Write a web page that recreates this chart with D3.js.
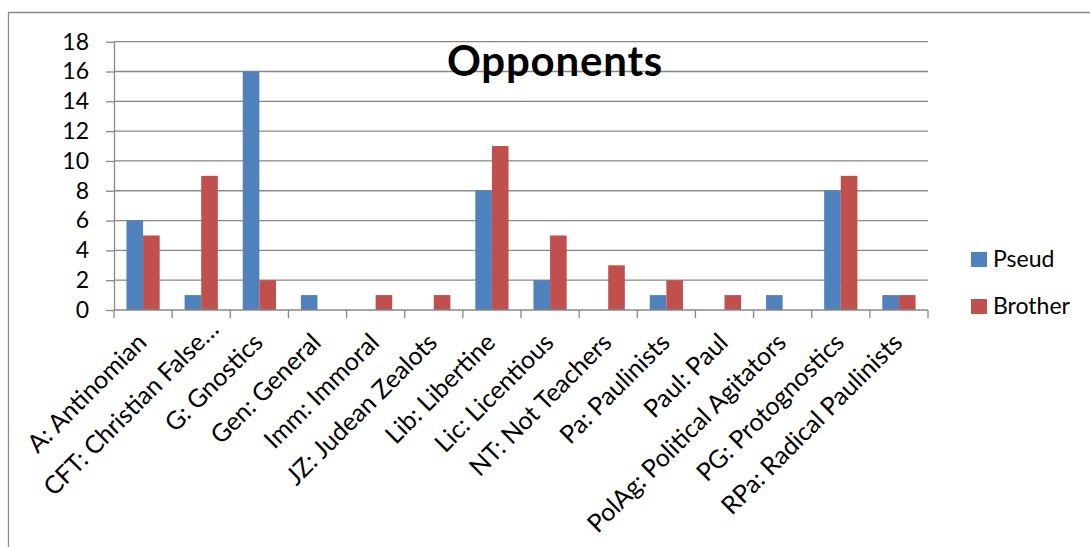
<!DOCTYPE html>
<html><head><meta charset="utf-8">
<script src="https://cdn.jsdelivr.net/npm/d3@7/dist/d3.min.js"></script>
<style>
html,body{margin:0;padding:0;background:#fff;}
svg{display:block;font-family:Lato,"Open Sans",sans-serif;}
</style></head>
<body>
<svg id="chart" width="1090" height="547"></svg>
<script>
const categories = ["A: Antinomian","CFT: Christian False…","G: Gnostics","Gen: General","Imm: Immoral","JZ: Judean Zealots","Lib: Libertine","Lic: Licentious","NT: Not Teachers","Pa: Paulinists","Paul: Paul","PolAg: Political Agitators","PG: Protognostics","RPa: Radical Paulinists"];
const seriesNames = ["Pseud","Brother"];
const pseud   = [6,1,16,1,0,0,8,2,0,1,0,1,8,1];
const brother = [5,9,2,0,1,1,11,5,3,2,1,0,9,1];
const yTicks = [0,2,4,6,8,10,12,14,16,18];
const title = "Opponents";
const colors = ["#4F81BD","#C0504D"];

const svg = d3.select("#chart");
const L = 114, R = 928, T = 41.7, B = 310;
const gridColor = "#878787";

// outer frame (top + left)
svg.append("line").attr("x1",8).attr("x2",1090).attr("y1",12.5).attr("y2",12.5).attr("stroke","#8c8c8c").attr("stroke-width",1.3);
svg.append("line").attr("x1",8.5).attr("x2",8.5).attr("y1",12).attr("y2",547).attr("stroke","#8c8c8c").attr("stroke-width",1.3);

const x0 = d3.scaleBand().domain(categories).range([L,R]).paddingInner(0).paddingOuter(0);
const x1 = d3.scaleBand().domain(seriesNames).range([0,x0.bandwidth()]).paddingInner(0).paddingOuter(0.75);
const y = d3.scaleLinear().domain([0,18]).range([B,T]);

// gridlines
svg.append("g").selectAll("line").data(yTicks.filter(d=>d>0)).join("line")
  .attr("x1",L).attr("x2",R).attr("y1",d=>y(d)).attr("y2",d=>y(d))
  .attr("stroke",gridColor).attr("stroke-width",1.3);

// bars
const data = categories.map((c,i)=>({c, vals:[pseud[i],brother[i]]}));
const groups = svg.append("g").selectAll("g").data(data).join("g")
  .attr("transform",d=>`translate(${x0(d.c)},0)`);
groups.selectAll("rect").data(d=>d.vals.map((v,j)=>({s:seriesNames[j],v,j}))).join("rect")
  .attr("x",d=>x1(d.s)).attr("width",x1.bandwidth())
  .attr("y",d=>y(d.v)).attr("height",d=>B-y(d.v))
  .attr("fill",d=>colors[d.j]);

// y axis
const yAxis = svg.append("g").attr("transform",`translate(${L},0)`)
  .call(d3.axisLeft(y).tickValues(yTicks).tickSize(8).tickPadding(17).tickSizeOuter(0));
yAxis.select(".domain").attr("stroke",gridColor).attr("stroke-width",1.3);
yAxis.selectAll(".tick line").attr("stroke",gridColor).attr("stroke-width",1.3);
yAxis.selectAll("text").attr("font-size",23).attr("fill","#000").attr("font-family","Lato, 'Open Sans', sans-serif");

// x axis
const xAxisG = svg.append("g");
xAxisG.append("line").attr("x1",L).attr("x2",R).attr("y1",B).attr("y2",B).attr("stroke",gridColor).attr("stroke-width",1.3);
const boundaries = categories.map(c=>x0(c)).concat([x0(categories[categories.length-1])+x0.bandwidth()]);
xAxisG.selectAll("line.tk").data(boundaries).join("line").attr("class","tk")
  .attr("x1",d=>d).attr("x2",d=>d).attr("y1",B).attr("y2",B+8)
  .attr("stroke",gridColor).attr("stroke-width",1.3);
xAxisG.selectAll("text").data(categories).join("text")
  .attr("transform",d=>{
    const cx = x0(d)+x0.bandwidth()/2;
    const trunc = d.endsWith("…");
    return `translate(${cx+(trunc?19:5)},${B+(trunc?21:34)}) rotate(-45)`;
  })
  .attr("text-anchor","end").attr("font-size",25).attr("fill","#000")
  .text(d=>d);

// title
svg.append("text").attr("x",555).attr("y",76).attr("text-anchor","middle")
  .attr("font-size",42).attr("letter-spacing",0.8).attr("font-weight","bold").attr("fill","#000").text(title);

// legend
const leg = svg.append("g").selectAll("g").data(seriesNames).join("g")
  .attr("transform",(d,i)=>`translate(971,${252+i*47})`);
leg.append("rect").attr("width",16).attr("height",15).attr("fill",(d,i)=>colors[i]);
leg.append("text").attr("x",22).attr("y",15).attr("font-size",23).attr("fill","#000").text(d=>d);
</script>
</body></html>
